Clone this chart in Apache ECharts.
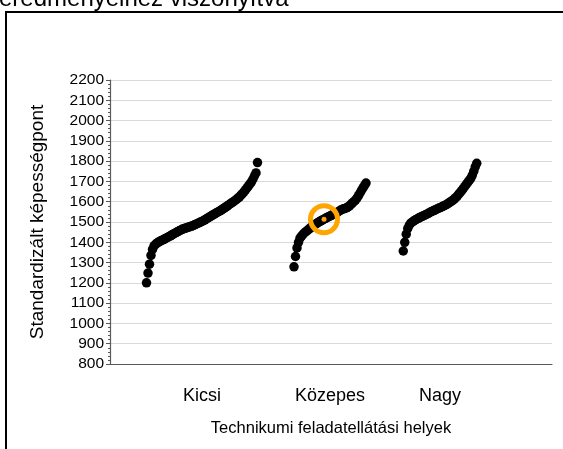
<!DOCTYPE html>
<html>
<head>
<meta charset="UTF-8">
<title>Standardizált képességpont</title>
<script src="https://cdn.jsdelivr.net/npm/echarts@6/dist/echarts.min.js"></script>
<style>
  html, body { margin: 0; padding: 0; background: #fff; }
  #chart { width: 563px; height: 449px; }
</style>
</head>
<body>
<div id="chart"></div>
<script>
// categories and where their label sits on the (hidden) x scale
const categories = ['Kicsi', 'Közepes', 'Nagy'];
const categoryCenters = [92, 220, 330];

// sorted scores of each group
const kicsi = [1200, 1248, 1292, 1335, 1365, 1382, 1390, 1396, 1401, 1405,
  1409, 1412, 1416, 1420, 1424, 1428, 1432, 1437, 1441, 1445,
  1449, 1453, 1457, 1461, 1465, 1467, 1470, 1472, 1475, 1477,
  1480, 1482, 1486, 1489, 1493, 1496, 1500, 1503, 1507, 1511,
  1516, 1520, 1525, 1529, 1534, 1538, 1542, 1547, 1551, 1555,
  1560, 1565, 1570, 1575, 1580, 1585, 1590, 1595, 1600, 1606,
  1612, 1618, 1624, 1632, 1640, 1649, 1658, 1668, 1678, 1688,
  1698, 1712, 1728, 1742, 1793];
const kozepes = [1279, 1330, 1372, 1400, 1420, 1430, 1439, 1447, 1453, 1459,
  1465, 1471, 1477, 1483, 1488, 1492, 1497, 1502, 1506, 1510,
  1514, 1518, 1522, 1526, 1529, 1533, 1537, 1540, 1543, 1548,
  1553, 1558, 1562, 1565, 1567, 1570, 1574, 1580, 1587, 1594,
  1601, 1608, 1618, 1630, 1643, 1656, 1668, 1680, 1692];
const nagy = [1357, 1400, 1440, 1468, 1484, 1494, 1500, 1505, 1510, 1514,
  1518, 1522, 1526, 1529, 1532, 1536, 1540, 1544, 1548, 1552,
  1555, 1559, 1562, 1566, 1569, 1572, 1576, 1579, 1583, 1587,
  1592, 1597, 1602, 1607, 1613, 1620, 1628, 1637, 1646, 1655,
  1665, 1675, 1685, 1695, 1705, 1715, 1730, 1750, 1772, 1789];

// the marked school: group and rank inside it
const highlight = { group: 1, index: 20 };

const groups = [kicsi, kozepes, nagy];
const step = 1.5;

function toPoints(values, center) {
  const start = center - (values.length - 1) * step / 2;
  return values.map((v, i) => [start + i * step, v]);
}

const groupPoints = groups.map((g, i) => toPoints(g, categoryCenters[i]));
const hlPoint = groupPoints[highlight.group][highlight.index];

const font = 'Liberation Sans, Arial, sans-serif';
const chart = echarts.init(document.getElementById('chart'), null, { renderer: 'canvas' });

chart.setOption({
  animation: false,
  backgroundColor: '#fff',
  grid: { left: 110, right: 11, top: 80, bottom: 85 },
  xAxis: {
    type: 'value',
    min: 0,
    max: 442,
    name: 'Technikumi feladatellátási helyek',
    nameLocation: 'middle',
    nameGap: 56,
    nameTextStyle: { color: '#000', fontSize: 16.5, fontFamily: font },
    axisLine: { show: true, lineStyle: { color: '#595959', width: 1.2 } },
    axisTick: { show: false },
    splitLine: { show: false },
    axisLabel: {
      customValues: categoryCenters,
      formatter: v => categories[categoryCenters.indexOf(v)] || '',
      margin: 23,
      color: '#000',
      fontSize: 18,
      fontFamily: font
    }
  },
  yAxis: {
    type: 'value',
    min: 800,
    max: 2200,
    interval: 100,
    name: 'Standardizált képességpont',
    nameLocation: 'middle',
    nameGap: 63,
    nameTextStyle: { color: '#000', fontSize: 19, fontFamily: font },
    axisLine: { show: true, lineStyle: { color: '#595959', width: 1.2 } },
    axisTick: { show: true, length: 4, lineStyle: { color: '#595959' } },
    minorTick: { show: true, splitNumber: 5, length: 2, lineStyle: { color: '#595959' } },
    splitLine: { show: true, lineStyle: { color: '#d9d9d9', width: 1 } },
    axisLabel: {
      formatter: v => String(v),
      color: '#000',
      fontSize: 15.5,
      fontFamily: font,
      margin: 6
    }
  },
  graphic: [
    {
      type: 'text',
      left: -1,
      top: -12.5,
      style: { text: 'eredményeihez viszonyítva', font: '24px ' + font, fill: '#000' }
    },
    {
      type: 'rect',
      shape: { x: 6, y: 12, width: 600, height: 500 },
      style: { fill: 'none', stroke: '#000', lineWidth: 2 },
      z: 100
    }
  ],
  series: [
    ...groupPoints.map((pts, i) => ({
      name: categories[i],
      type: 'scatter',
      data: pts,
      symbol: 'circle',
      symbolSize: 9.5,
      itemStyle: { color: '#000', opacity: 1 }
    })),
    {
      type: 'scatter',
      data: [hlPoint],
      symbol: 'circle',
      symbolSize: 5,
      itemStyle: { color: '#ffa500', opacity: 1 },
      z: 5
    },
    {
      type: 'scatter',
      data: [hlPoint],
      symbol: 'circle',
      symbolSize: 27,
      itemStyle: { color: 'rgba(0,0,0,0)', borderColor: '#ffa500', borderWidth: 5, opacity: 1 },
      z: 6
    }
  ]
});
</script>
</body>
</html>
